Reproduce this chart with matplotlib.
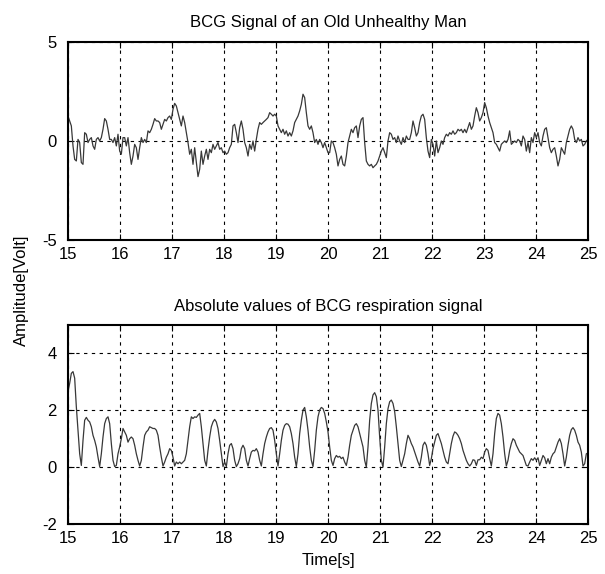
import numpy as np
import matplotlib.pyplot as plt

plt.rcParams['font.family'] = ['Liberation Sans', 'DejaVu Sans']
plt.rcParams['axes.unicode_minus'] = False

# BCG signal (top), 15 s .. 25 s
bcg = [
    1.26, 1.01, 0.76, -0.25, -0.93, -1.01, 0.08, -0.08, -1.09, -1.18,
    0.42, 0.34, -0.08, 0.08, 0.17, -0.25, -0.42, 0.08, 0.17, 0.00,
    0.17, 0.59, 1.13, 1.01, 0.59, 0.08, 0.08, -0.08, 0.17, -0.25,
    0.34, -0.51, -0.67, 0.17, 0.17, -0.25, 0.17, -0.59, -1.18, -0.76,
    -0.17, -0.34, -0.93, -0.34, 0.17, -0.08, 0.08, -0.08, 0.51, 0.42,
    0.59, 0.84, 1.13, 1.01, 1.01, 0.93, 0.59, 0.84, 1.09, 1.01,
    1.18, 1.26, 1.09, 1.60, 1.90, 1.77, 1.43, 1.09, 0.76, 1.26,
    0.93, 0.42, -0.08, -0.67, -0.42, -1.18, -0.34, -1.09, -1.80, -1.43,
    -0.51, -1.18, -0.76, -0.42, -0.93, -0.42, -0.59, -0.17, -0.42, -0.25,
    -0.08, -0.42, -0.34, -0.59, -0.51, -0.67, -0.59, -0.34, -0.17, 0.76,
    0.84, 0.42, -0.08, 0.67, 1.01, 0.59, -0.08, -0.34, -0.76, -0.17,
    -0.42, 0.00, -0.51, 0.08, 0.59, 0.93, 0.84, 0.93, 1.01, 1.09,
    1.18, 1.43, 1.35, 1.26, 1.35, 1.26, 0.76, 0.59, 0.42, 0.59,
    0.34, 0.51, 0.25, 0.42, 0.25, 0.51, 0.93, 1.09, 1.26, 1.52,
    1.85, 2.36, 2.19, 1.43, 0.76, 0.59, 0.76, 0.42, -0.08, 0.08,
    -0.17, 0.08, -0.08, -0.34, -0.08, -0.34, -0.59,
    -0.59, 0.00, -0.08, -0.34, -0.67, -1.26, -0.93, -0.76, -1.18, -1.26,
    -0.76, -0.08, 0.25, 0.59, 0.42, 0.67, 0.76, 0.17, 0.76, 1.09,
    1.18, -0.08, -1.01, -1.18, -1.26, -1.18, -1.35, -1.26, -1.18, -1.01,
    -0.76, -0.51, -0.34, -0.59, -0.84, 0.00, 0.42, 0.34, 0.08, 0.17,
    -0.08, 0.25, 0.00, -0.17, 0.17, -0.08, 0.25, 0.08, 0.08, 0.42,
    1.01, 0.67, 0.25, 0.42, 0.93, 1.26, 1.35, 1.09, 0.17, -0.51,
    -0.84, 0.08, -0.17, -0.76, 0.00, -0.59, -0.34, 0.00, -0.17, 0.17,
    0.34, 0.25, 0.42, 0.34, 0.51, 0.34, 0.42, 0.59, 0.51, 0.59,
    0.42, 0.59, 0.42, 0.67, 0.93, 0.59, 0.76, 1.26, 1.68, 1.43,
    1.01, 1.18, 1.43, 1.94, 1.68, 1.26, 0.93, 0.67, 0.42, -0.08,
    -0.17, -0.34, -0.51, -0.17, -0.08, 0.00, -0.08, 0.08, 0.51, -0.17,
    -0.08, 0.00, -0.08, 0.08, 0.00, -0.25, 0.25, 0.08, -0.51, -0.08,
    -0.59, 0.17, -0.08, 0.42, 0.17, 0.42, -0.08, -0.25, 0.25, 0.59,
    0.67, 0.17, -0.34, -0.59, -0.42, -0.34, -0.76, -1.26, -0.93, -0.34,
    -0.51, -0.67, -0.08, 0.25, 0.59, 0.76, 0.59, 0.08, -0.08, 0.17,
    0.00, 0.08, -0.25, -0.17, 0.00, 0.08,
]

# absolute values of the respiration signal (bottom)
resp = [
    2.65, 2.95, 3.30, 3.36, 3.13, 2.12, 1.30, 0.47, 0.06, 0.94,
    1.65, 1.75, 1.65, 1.59, 1.42, 1.12, 0.94, 0.71, 0.35, 0.02,
    0.47, 1.06, 1.53, 1.71, 1.77, 1.53, 0.83, 0.24, 0.02, 0.06,
    0.47, 0.71, 1.00, 1.36, 1.24, 1.12, 0.88, 1.00, 1.06, 1.00,
    0.77, 0.47, 0.24, 0.04, 0.24, 0.71, 1.12, 1.24, 1.30, 1.42,
    1.39, 1.36, 1.36, 1.30, 1.12, 0.71, 0.35, 0.04, 0.18, 0.35,
    0.47, 0.65, 0.59, 0.35, 0.04, 0.18, 0.12, 0.18, 0.12, 0.18,
    0.24, 0.47, 0.94, 1.42, 1.77, 1.71, 1.77, 1.75, 1.83, 1.89,
    1.42, 0.83, 0.24, 0.04, 0.59, 1.06, 1.42, 1.59, 1.68, 1.59,
    1.36, 0.94, 0.47, 0.02, 0.18, 0.02, 0.47, 0.77, 0.83, 0.65,
    0.24, 0.02, 0.12, 0.30, 0.65, 0.77, 0.65, 0.24, 0.04, 0.30,
    0.53, 0.59, 0.57, 0.65, 0.53, 0.24, 0.04, 0.47, 0.83, 1.06,
    1.24, 1.36, 1.39, 1.30, 0.94, 0.47, 0.04, 0.47, 0.94, 1.30,
    1.47, 1.53, 1.51, 1.42, 1.18, 0.83, 0.35, 0.02, 0.47, 1.18,
    1.65, 2.01, 2.10, 1.77, 1.30, 0.71, 0.24, 0.02, 0.59, 1.30,
    1.77, 2.01, 2.10, 2.06, 1.89, 1.59, 1.24,
    0.71, 0.24, 0.06, 0.30, 0.41, 0.35, 0.38, 0.30, 0.35, 0.18,
    0.06, 0.35, 0.77, 1.12, 1.30, 1.47, 1.53, 1.42, 1.18, 0.94,
    0.71, 0.24, 0.00, 0.71, 1.65, 2.24, 2.54, 2.62, 2.48, 2.01,
    1.06, 0.24, 0.00, 0.71, 1.53, 2.06, 2.30, 2.36, 2.24, 1.95,
    1.42, 0.83, 0.24, 0.02, 0.24, 0.47, 0.83, 1.12, 1.00, 0.83,
    0.71, 0.53, 0.35, 0.18, 0.04, 0.35, 0.77, 0.88, 0.77, 0.47,
    0.06, 0.30, 0.65, 0.88, 1.12, 1.18, 1.00, 0.83, 0.59, 0.35,
    0.18, 0.12, 0.47, 0.83, 1.09, 1.24, 1.20, 1.12, 1.00, 0.83,
    0.59, 0.41, 0.24, 0.12, 0.04, 0.12, 0.26, 0.24, 0.06, 0.26,
    0.26, 0.35, 0.30, 0.53, 0.65, 0.59, 0.30, 0.04, 0.47, 1.18,
    1.71, 1.89, 1.83, 1.53, 1.06, 0.47, 0.04, 0.24, 0.59, 0.83,
    1.00, 0.94, 0.77, 0.65, 0.53, 0.47, 0.41, 0.24, 0.06, 0.04,
    0.18, 0.30, 0.24, 0.33, 0.24, 0.33, 0.06, 0.24, 0.41, 0.33,
    0.12, 0.30, 0.12, 0.35, 0.47, 0.53, 0.71, 0.88, 1.00, 0.83,
    0.47, 0.04, 0.35, 0.77, 1.12, 1.32, 1.39, 1.30, 1.12, 0.88,
    0.77, 0.53, 0.04, 0.12, 0.47, 0.50,
]

t = np.linspace(15, 25, len(bcg))
x_ticks = list(range(15, 26))

fig = plt.figure(figsize=(6.05, 5.74), dpi=100)
ax1 = fig.add_axes([0.1124, 0.5819, 0.8595, 0.345])
ax2 = fig.add_axes([0.1124, 0.0871, 0.8595, 0.3467])


def style(ax, yticks):
    ax.set_xlim(15, 25)
    ax.set_xticks(x_ticks)
    ax.set_yticks(yticks)
    ax.grid(True, color='black', linestyle=(0, (3, 4)), linewidth=0.8)
    ax.tick_params(direction='in', labelsize=12, length=4, width=0.8,
                   top=True, right=True)
    ax.tick_params(axis='x', pad=5)
    ax.tick_params(axis='y', pad=8)
    for s in ax.spines.values():
        s.set_linewidth(1.5)


ax1.plot(t, bcg, color='#383838', linewidth=0.9)
ax1.set_ylim(-5, 5)
style(ax1, [-5, 0, 5])
ax1.set_title('BCG Signal of an Old Unhealthy Man', fontsize=12, pad=11)

ax2.plot(np.linspace(15, 25, len(resp)), resp, color='#383838', linewidth=0.9)
ax2.set_ylim(-2, 5)
style(ax2, [-2, 0, 2, 4])
ax2.set_title('Absolute values of BCG respiration signal', fontsize=12, pad=10)
ax2.set_xlabel('Time[s]', fontsize=12, labelpad=5)

fig.text(0.036, 0.495, 'Amplitude[Volt]', rotation=90, fontsize=12, ha='center', va='center')

fig.savefig('out.png', dpi=100)
